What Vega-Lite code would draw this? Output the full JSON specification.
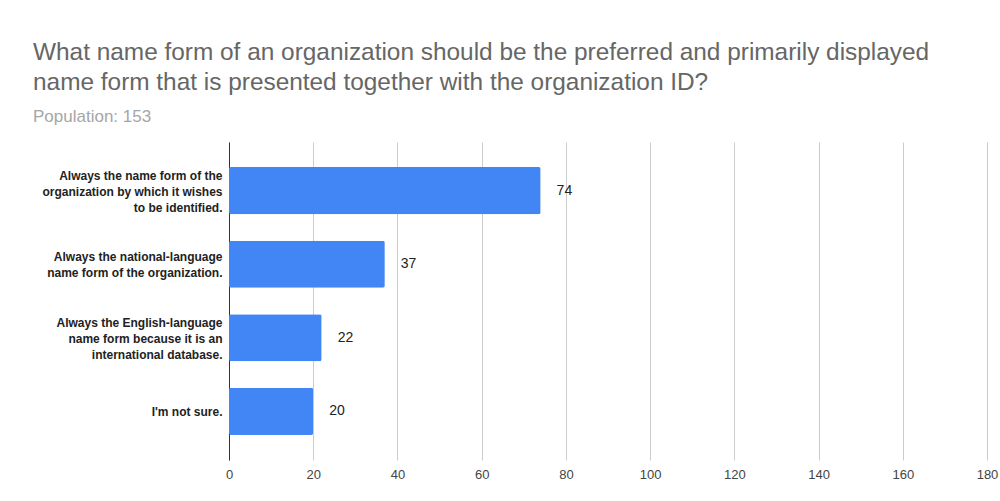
{
  "$schema": "https://vega.github.io/schema/vega-lite/v6.json",
  "width": 758,
  "height": 318,
  "autosize": {"type": "none"},
  "padding": {"left": 229, "top": 142, "right": 13, "bottom": 41},
  "background": "white",
  "title": {
    "text": ["What name form of an organization should be the preferred and primarily displayed", "name form that is presented together with the organization ID?"],
    "subtitle": "Population: 153",
    "anchor": "start",
    "frame": "group",
    "dx": -196,
    "offset": 16,
    "font": "Liberation Sans",
    "fontSize": 24.4,
    "fontWeight": "normal",
    "color": "#666666",
    "lineHeight": 30,
    "subtitleFont": "Liberation Sans",
    "subtitleFontSize": 17,
    "subtitleColor": "#a6a6a6",
    "subtitlePadding": 14
  },
  "data": {
    "values": [
      {"answer": "Always the name form of the\norganization by which it wishes\nto be identified.", "count": 74},
      {"answer": "Always the national-language\nname form of the organization.", "count": 37},
      {"answer": "Always the English-language\nname form because it is an\ninternational database.", "count": 22},
      {"answer": "I'm not sure.", "count": 20}
    ]
  },
  "encoding": {
    "y": {
      "field": "answer",
      "type": "nominal",
      "sort": null,
      "title": null,
      "scale": {"paddingInner": 0.36, "paddingOuter": 0.34},
      "axis": {
        "labelExpr": "split(datum.value, '\\n')",
        "labelFont": "Liberation Sans",
        "labelFontSize": 12,
        "labelFontWeight": "bold",
        "labelColor": "#222222",
        "labelLineHeight": 16,
        "labelPadding": 7,
        "labelOffset": {
          "condition": [
            {"test": "length(split(datum.value, '\\n')) == 3", "value": -15},
            {"test": "length(split(datum.value, '\\n')) == 2", "value": -7}
          ],
          "value": 1
        },
        "ticks": false,
        "domain": true,
        "domainColor": "#333333",
        "domainWidth": 1,
        "labelLimit": 300
      }
    },
    "x": {
      "field": "count",
      "type": "quantitative",
      "title": null,
      "scale": {"domain": [0, 180], "nice": false},
      "axis": {
        "values": [0, 20, 40, 60, 80, 100, 120, 140, 160, 180],
        "domain": false,
        "ticks": false,
        "grid": true,
        "gridColor": "#cccccc",
        "labelFont": "Liberation Sans",
        "labelFontSize": 13,
        "labelColor": "#444444",
        "labelPadding": 8,
        "labelFlush": false
      }
    }
  },
  "layer": [
    {"mark": {"type": "bar", "color": "#4285F4", "cornerRadius": 2}},
    {
      "mark": {"type": "text", "align": "left", "dx": 16, "font": "Liberation Sans", "fontSize": 14, "color": "#222222", "baseline": "middle"},
      "encoding": {"text": {"field": "count", "type": "quantitative"}}
    }
  ],
  "config": {"view": {"stroke": null}}
}
